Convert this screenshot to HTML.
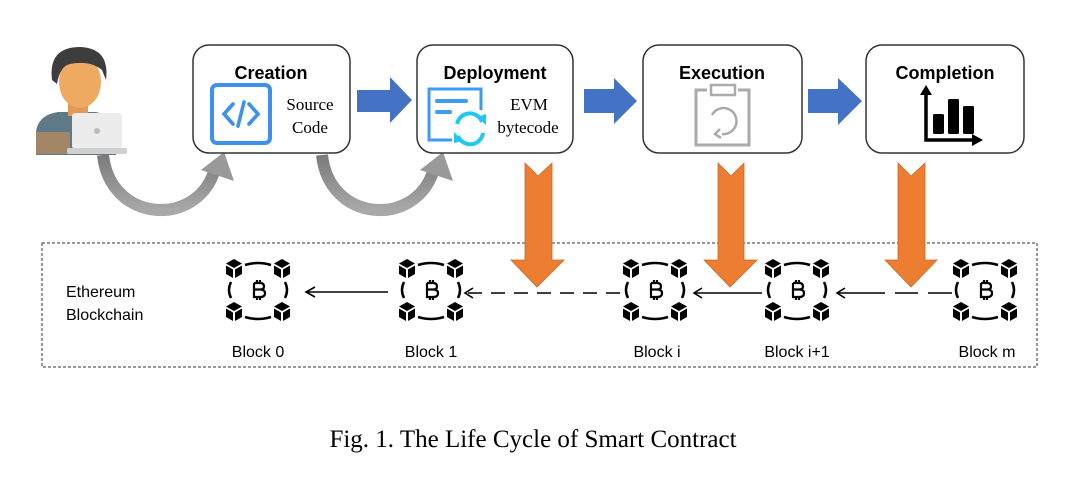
<!DOCTYPE html>
<html><head><meta charset="utf-8"><style>
html,body{margin:0;padding:0;background:#fff;}
body{width:1080px;height:477px;overflow:hidden;}
svg text{font-family:"Liberation Sans",sans-serif;}
</style></head><body>
<svg width="1080" height="477" viewBox="0 0 1080 477" xmlns="http://www.w3.org/2000/svg">
<defs>
<g id="cube">
  <path d="M0,-9 L8,-4.5 L0,0 L-8,-4.5 Z" fill="#000"/>
  <path d="M-8,-2.5 L-1,1.5 L-1,10 L-8,6 Z" fill="#000"/>
  <path d="M8,-2.5 L1,1.5 L1,10 L8,6 Z" fill="#000"/>
</g>
<g id="blk">
  <use href="#cube" x="-24" y="-22"/>
  <use href="#cube" x="24" y="-22"/>
  <use href="#cube" x="-24" y="21"/>
  <use href="#cube" x="24" y="21"/>
  <path d="M-13,-25 Q0,-29 13,-25" fill="none" stroke="#000" stroke-width="2.5"/>
  <path d="M-13,27 Q0,31 13,27" fill="none" stroke="#000" stroke-width="2.5"/>
  <path d="M-27,-8 Q-31,0 -27,8" fill="none" stroke="#000" stroke-width="2.5"/>
  <path d="M27,-8 Q31,0 27,8" fill="none" stroke="#000" stroke-width="2.5"/>
  <path d="M-4,-7 L2,-7 Q6,-7 6,-3.5 Q6,-0.5 2,-0.5 L-4,-0.5 M2,-0.5 Q7,-0.5 7,3.2 Q7,7 2,7 L-4,7 L-4,-7 M-1,-10 L-1,-7 M2,-10 L2,-7 M-1,7 L-1,10 M2,7 L2,10" fill="none" stroke="#000" stroke-width="2.2"/>
</g>
<linearGradient id="gg" x1="0" y1="0" x2="0" y2="1">
  <stop offset="0" stop-color="#7a7a7a"/><stop offset="1" stop-color="#a8a8a8"/>
</linearGradient>
</defs>

<!-- person -->
<path d="M36,155 L36,132 Q38,115 58,112 L96,112 Q110,115 116,128 L116,155 Z" fill="#5f7a86"/>
<rect x="68" y="98" width="20" height="18" fill="#e39a52"/>
<ellipse cx="80" cy="82" rx="21" ry="26" fill="#efaa62"/>
<path d="M52,80 Q48,47 80,47 Q110,48 106,80 L102,70 Q90,60 70,64 Q60,66 57,84 Z" fill="#3d3d3d"/>
<rect x="36" y="132" width="34" height="22" fill="#d99050" opacity="0.55"/>
<rect x="72" y="113" width="50" height="36" rx="3" fill="#ececec"/>
<circle cx="97" cy="131" r="3" fill="#bbb"/>
<rect x="67" y="148" width="60" height="6" rx="2" fill="#d0d0d0"/>

<!-- gray curved arrows -->
<path d="M103,155 C110,222 195,228 214,172" fill="none" stroke="url(#gg)" stroke-width="12"/>
<path d="M224,152 L201,170 L234,181 Z" fill="#999"/>
<path d="M322,155 C329,222 414,228 433,172" fill="none" stroke="url(#gg)" stroke-width="12"/>
<path d="M443,152 L420,170 L453,181 Z" fill="#999"/>

<!-- boxes -->
<g fill="#fff" stroke="#333" stroke-width="1.5">
<rect x="193" y="45" width="157" height="108" rx="16"/>
<rect x="417" y="45" width="156" height="108" rx="16"/>
<rect x="643" y="45" width="159" height="108" rx="16"/>
<rect x="866" y="45" width="158" height="108" rx="16"/>
</g>
<g font-weight="bold" font-size="18" text-anchor="middle" fill="#000">
<text x="271" y="79">Creation</text>
<text x="495" y="79">Deployment</text>
<text x="722" y="79">Execution</text>
<text x="945" y="79">Completion</text>
</g>
<!-- creation icon -->
<rect x="212" y="85" width="58" height="58" rx="5" fill="none" stroke="#3d8ff0" stroke-width="4"/>
<path d="M233,104 L224,114 L233,124 M249,104 L258,114 L249,124 M244,102 L238,126" fill="none" stroke="#3d8ff0" stroke-width="3.6" stroke-linecap="round"/>
<g font-size="17" text-anchor="middle" fill="#000">
<text x="310" y="110" style="font-family:'Liberation Serif',serif">Source</text>
<text x="310" y="133" style="font-family:'Liberation Serif',serif">Code</text>
<text x="529" y="110" style="font-family:'Liberation Serif',serif">EVM</text>
<text x="528" y="133" style="font-family:'Liberation Serif',serif">bytecode</text>
</g>
<!-- deployment icon -->
<path d="M452,140 L429,140 L429,89 L481,89 L481,110" fill="none" stroke="#3d9bf0" stroke-width="3"/>
<path d="M437,101 L466,101 M437,112 L450,112" stroke="#3d9bf0" stroke-width="4" stroke-linecap="round"/>
<path d="M457,124 A13,13 0 0 1 482,122" fill="none" stroke="#1ec8f0" stroke-width="4"/>
<path d="M483,133 A13,13 0 0 1 458,136" fill="none" stroke="#1ec8f0" stroke-width="4"/>
<path d="M477,117 L486,114 L486,125 Z M463,141 L454,143 L454,132 Z" fill="#1ec8f0"/>
<!-- execution icon -->
<path d="M707,90 L696,90 L696,145 L749,145 L749,90 L738,90" fill="none" stroke="#aaa" stroke-width="3"/>
<rect x="711" y="85" width="24" height="10" fill="none" stroke="#aaa" stroke-width="2.5"/>
<path d="M712,115 A13,13 0 1 1 722,134" fill="none" stroke="#aaa" stroke-width="2.5"/>
<path d="M720,129 L715,134 L721,138" fill="none" stroke="#aaa" stroke-width="2.5"/>
<!-- completion icon -->
<path d="M926,90 L926,140 L978,140" fill="none" stroke="#000" stroke-width="3.5"/>
<path d="M920,95 L926,85 L932,95 Z M972,134 L983,140 L972,146 Z" fill="#000"/>
<rect x="933" y="114" width="11" height="20" rx="1.5" fill="#000"/>
<rect x="948" y="99" width="11" height="35" rx="1.5" fill="#000"/>
<rect x="963" y="106" width="11" height="28" rx="1.5" fill="#000"/>

<!-- blue arrows -->
<g fill="#4472c4">
<path d="M357,90 L390,90 L390,77 L412,100 L390,123 L390,112 L357,112 Z"/>
<path d="M584,89 L614,89 L614,78 L637,101 L614,124 L614,113 L584,113 Z"/>
<path d="M808,89 L838,89 L838,78 L862,101 L838,125 L838,113 L808,113 Z"/>
</g>

<!-- dashed frame -->
<rect x="42" y="243" width="995" height="124" fill="none" stroke="#333" stroke-width="1" stroke-dasharray="3,2"/>
<text x="66" y="297" font-size="16">Ethereum</text>
<text x="66" y="320" font-size="16">Blockchain</text>

<!-- chain connectors -->
<g stroke="#000" stroke-width="1.6" fill="none">
<line x1="388" y1="292" x2="306" y2="292"/>
<path d="M315,287 L306,292 L315,297"/>
<line x1="620" y1="293" x2="465" y2="293" stroke-dasharray="14,9"/>
<path d="M473,288 L465,293 L473,298"/>
<line x1="762" y1="293" x2="694" y2="293"/>
<path d="M702,288 L694,293 L702,298"/>
<line x1="885" y1="293" x2="837" y2="293"/>
<path d="M845,288 L837,293 L845,298"/>
<line x1="895" y1="293" x2="918" y2="293"/>
<line x1="928" y1="293" x2="952" y2="293"/>
</g>

<!-- blocks -->
<use href="#blk" x="258" y="290"/>
<use href="#blk" x="431" y="290"/>
<use href="#blk" x="655" y="290"/>
<use href="#blk" x="797" y="290"/>
<use href="#blk" x="985" y="290"/>
<g font-size="16" text-anchor="middle" fill="#000">
<text x="258" y="357">Block 0</text>
<text x="431" y="357">Block 1</text>
<text x="657" y="357">Block i</text>
<text x="797" y="357">Block i+1</text>
<text x="987" y="357">Block m</text>
</g>

<!-- orange arrows -->
<g fill="#ed7d31" stroke="#c96a28" stroke-width="0.8">
<path d="M525,163 L538,176 L552,163 L552,260 L564,260 L537,287 L511,260 L525,260 Z"/>
<path d="M718,163 L731,176 L744,163 L744,260 L757,260 L730,287 L704,260 L718,260 Z"/>
<path d="M898,163 L911,176 L925,163 L925,260 L937,260 L911,287 L885,260 L898,260 Z"/>
</g>

<text x="533" y="447" font-size="25" text-anchor="middle" style="font-family:'Liberation Serif',serif">Fig. 1.  The Life Cycle of Smart Contract</text>
</svg>
</body></html>
